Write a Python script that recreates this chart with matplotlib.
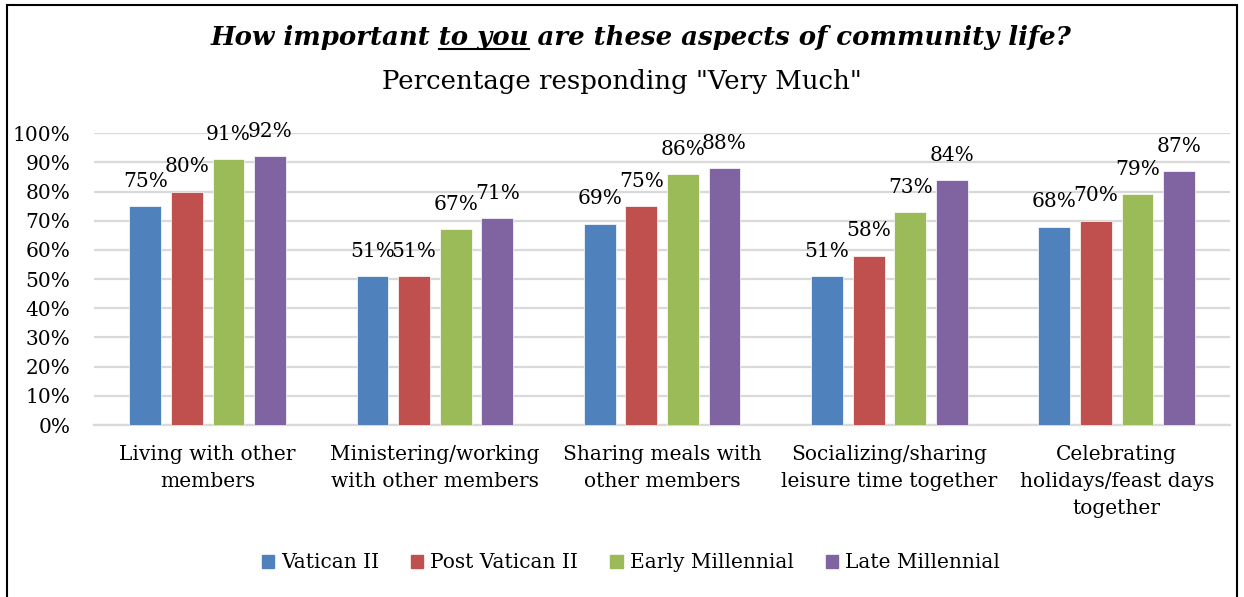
import numpy as np
import matplotlib
matplotlib.use("Agg")
import matplotlib.pyplot as plt
from matplotlib.patches import Rectangle
from matplotlib.lines import Line2D

plt.rcParams["font.family"] = ["DejaVu Serif"]

categories = [
    "Living with other\nmembers",
    "Ministering/working\nwith other members",
    "Sharing meals with\nother members",
    "Socializing/sharing\nleisure time together",
    "Celebrating\nholidays/feast days\ntogether",
]
series_names = ["Vatican II", "Post Vatican II", "Early Millennial", "Late Millennial"]
vatican_ii = [75, 51, 69, 51, 68]
post_vatican_ii = [80, 51, 75, 58, 70]
early_millennial = [91, 67, 86, 73, 79]
late_millennial = [92, 71, 88, 84, 87]
colors = ["#4F81BD", "#C0504D", "#9BBB59", "#8064A2"]

values = [vatican_ii, post_vatican_ii, early_millennial, late_millennial]

fig = plt.figure(figsize=(12.44, 5.97), dpi=100)
ax = fig.add_axes([0.0756, 0.288, 0.9134, 0.489])

x = np.arange(len(categories))
width = 0.14
step = 0.183
for k, (name, vals, col) in enumerate(zip(series_names, values, colors)):
    pos = x + (k - 1.5) * step
    bars = ax.bar(pos, vals, width, color=col, label=name, edgecolor="white",
                  linewidth=0.5, zorder=3)
    ax.bar_label(bars, labels=[f"{v}%" for v in vals], padding=11, fontsize=14.5)

ax.set_xlim(-0.5, len(categories) - 0.5)
ax.set_ylim(0, 100)
ax.set_yticks(range(0, 101, 10))
ax.set_yticklabels([f"{t}%" for t in range(0, 101, 10)], fontsize=14.5)
ax.set_xticks(x)
ax.set_xticklabels(categories, fontsize=14.5, linespacing=1.55)
ax.tick_params(axis="both", length=0)
ax.tick_params(axis="x", pad=14)
ax.tick_params(axis="y", pad=17)
ax.grid(axis="y", color="#D9D9D9", linewidth=1.6, zorder=0)
for s in ["top", "right", "left"]:
    ax.spines[s].set_visible(False)
ax.spines["bottom"].set_color("#D9D9D9")
ax.spines["bottom"].set_linewidth(1.6)

# legend
handles = [Rectangle((0, 0), 1, 1, color=c) for c in colors]
fig.legend(handles, series_names, loc="center", bbox_to_anchor=(0.507, 1 - 563 / 597),
           ncol=4, frameon=False, fontsize=14.5, handlelength=0.6, handleheight=0.6,
           handletextpad=0.35, columnspacing=1.6)

# title with underlined "to you"
pre, mid, post = "How important ", "to you", " are these aspects of community life?"
title_kw = dict(fontsize=18.7, fontweight="bold", fontstyle="italic")
ty = 1 - 38 / 597
t = fig.text(641 / 1244, ty, pre + mid + post, ha="center", va="center", **title_kw)
fig.text(0.5, 1 - 81 / 597, 'Percentage responding "Very Much"', ha="center",
         va="center", fontsize=18.7)

fig.canvas.draw()
r = fig.canvas.get_renderer()
bb = t.get_window_extent(r)
def width_of(s):
    tmp = fig.text(0, 0, s, **title_kw)
    w = tmp.get_window_extent(r).width
    tmp.remove()
    return w
x0 = bb.x0 + width_of(pre.rstrip()) + width_of("a a") - width_of("aa")
x1 = bb.x0 + width_of(pre + mid)
fw, fh = fig.get_size_inches() * fig.dpi
uy = bb.y0 + 2
fig.add_artist(Line2D([x0 / fw, x1 / fw], [uy / fh, uy / fh], color="black",
                      linewidth=1.5, transform=fig.transFigure))

# outer frame
fig.add_artist(Rectangle((0.006, -0.05), 0.988, 1.042, fill=False, edgecolor="black",
                         linewidth=1.5, transform=fig.transFigure))

fig.savefig("out.png", dpi=100)
